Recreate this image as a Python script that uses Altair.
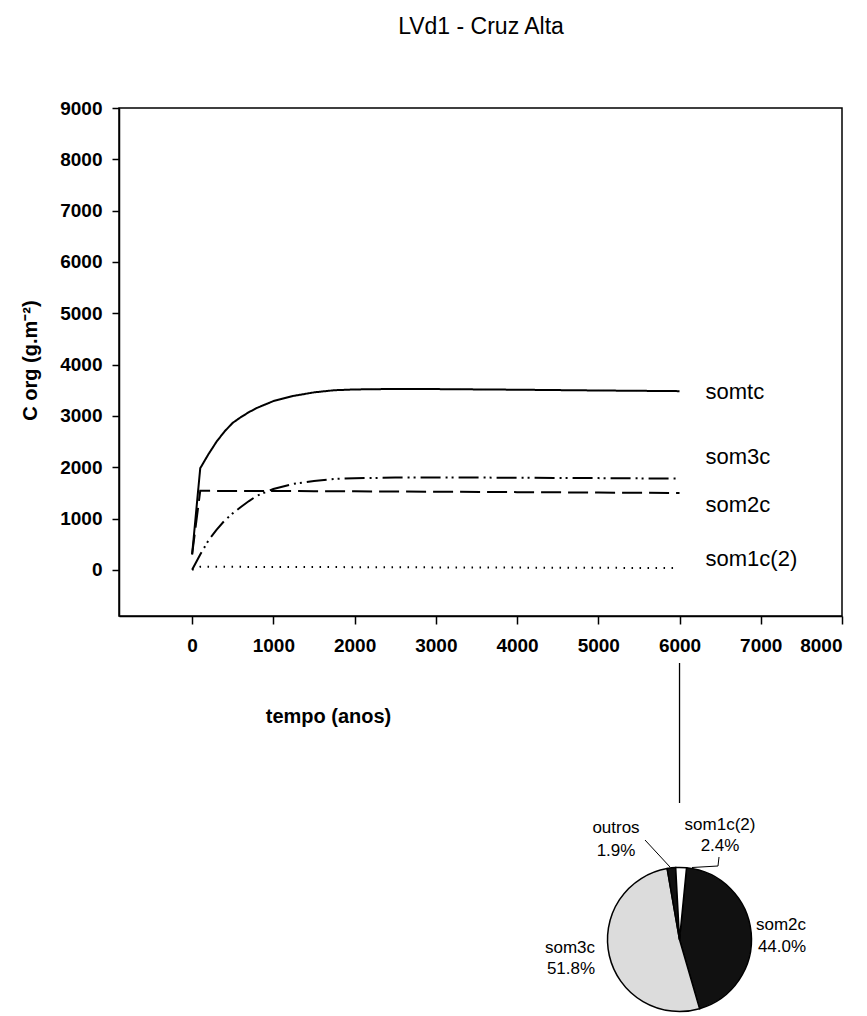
import math
import altair as alt
import pandas as pd

FONT = "Liberation Sans"

# ---------------- data ----------------
years = [0, 100, 200, 300, 400, 500, 600, 700, 800, 1000, 1250, 1500, 1750, 2000, 2500, 3000, 4000, 5000, 6000]
somtc = [300, 1980, 2250, 2495, 2698, 2864, 2975, 3073, 3156, 3288, 3390, 3458, 3500, 3515, 3525, 3522, 3510, 3495, 3482]
som3c = [0, 300, 570, 780, 960, 1100, 1225, 1340, 1445, 1575, 1675, 1730, 1770, 1785, 1797, 1800, 1795, 1787, 1777]
som2c = [300, 1540, 1539, 1538, 1538, 1537, 1537, 1536, 1536, 1535, 1534, 1533, 1531, 1530, 1526, 1522, 1514, 1506, 1498]
som1c = [0, 60, 60, 59, 59, 58, 58, 57, 57, 56, 55, 54, 53, 52, 50, 47, 43, 39, 35]

series_names = ["somtc", "som3c", "som2c", "som1c(2)"]
series_values = [somtc, som3c, som2c, som1c]

x_ticks = [0, 1000, 2000, 3000, 4000, 5000, 6000, 7000, 8000]
y_ticks = [0, 1000, 2000, 3000, 4000, 5000, 6000, 7000, 8000, 9000]

pie_names = ["som2c", "som3c", "outros", "som1c(2)"]
pie_pct = [44.0, 51.8, 1.9, 2.4]

# ---------------- tables ----------------
rows = []
for name, vals in zip(series_names, series_values):
    for t, v in zip(years, vals):
        rows.append({"serie": name, "year": t, "value": v})
df = pd.DataFrame(rows)
ends = df[df["year"] == years[-1]].reset_index(drop=True)

pie_df = pd.DataFrame({
    "name": pie_names,
    "pct": pie_pct,
    "idx": list(range(len(pie_names))),
    "pctlabel": [f"{p:.1f}%" for p in pie_pct],
})

# ---------------- layout ----------------
W, H = 723, 508
LEFT, TOP = 119, 108

dashes = [[1, 0], [20, 5, 2, 4, 2, 5], [20, 7], [1.5, 6.5]]

xscale = alt.Scale(domain=[-900, 8000], nice=False, zero=False)
yscale = alt.Scale(domain=[-900, 9000], nice=False, zero=False)

lines = alt.Chart(df).mark_line(color="black", strokeWidth=2).encode(
    x=alt.X("year:Q", scale=xscale,
            axis=alt.Axis(values=x_ticks, title="tempo (anos)", format="d",
                          tickSize=8, labelPadding=12, titleFontSize=20,
                          titleX=328 - LEFT, titleY=716 - (TOP + H), titleAlign="center",
                          titleBaseline="middle")),
    y=alt.Y("value:Q", scale=yscale,
            axis=alt.Axis(values=y_ticks, title="C org (g.m⁻²)", format="d",
                          tickSize=7, labelPadding=10, titleFontSize=20,
                          titleX=30 - LEFT, titleY=360 - TOP, titleAlign="center",
                          titleBaseline="middle", titleAngle=270)),
    strokeDash=alt.StrokeDash("serie:N",
                              scale=alt.Scale(domain=series_names, range=dashes),
                              legend=None),
    detail="serie:N",
)

label_dy = {"somtc": 1, "som3c": -22, "som2c": 12, "som1c(2)": -9}
end_labels = []
for name in series_names:
    end_labels.append(
        alt.Chart(ends[ends["serie"] == name]).mark_text(
            align="left", baseline="middle", dx=26, dy=label_dy[name],
            font=FONT, fontSize=22, color="black",
        ).encode(x=alt.X("year:Q", scale=xscale), y=alt.Y("value:Q", scale=yscale),
                 text="serie:N")
    )

# title
title = alt.Chart(pd.DataFrame({"t": ["LVd1 - Cruz Alta"]})).mark_text(
    align="center", baseline="middle", font=FONT, fontSize=23, color="black"
).encode(x=alt.value(481 - LEFT), y=alt.value(27 - TOP), text="t:N")

# connector from t = 6000 down to the pie
connector = alt.Chart(pd.DataFrame({"t": [years[-1]]})).mark_rule(
    color="black", strokeWidth=1.3
).encode(x=alt.X("t:Q", scale=xscale), y=alt.value(663 - TOP), y2=alt.value(803 - TOP))

# pie
start = math.radians(5.6)
pie = alt.Chart(pie_df).mark_arc(outerRadius=72, stroke="black", strokeWidth=1.5).encode(
    theta=alt.Theta("pct:Q", stack=True,
                    scale=alt.Scale(range=[start, start + 2 * math.pi])),
    color=alt.Color("name:N",
                    scale=alt.Scale(domain=pie_names,
                                    range=["#111111", "#dcdcdc", "#111111", "#ffffff"]),
                    legend=None),
    order=alt.Order("idx:Q"),
    x=alt.value(679.5 - LEFT),
    y=alt.value(939.5 - TOP),
)

pie_label_pos = {
    "outros": ((616, 828), (616, 851)),
    "som1c(2)": ((720, 825), (720, 846)),
    "som2c": ((781, 925), (782, 947)),
    "som3c": ((570, 948), (571, 969)),
}
pie_texts = []
for name, ((x1, y1), (x2, y2)) in pie_label_pos.items():
    sub = pie_df[pie_df["name"] == name]
    base = alt.Chart(sub).mark_text(
        align="center", baseline="middle", font=FONT, fontSize=17, color="black")
    pie_texts.append(base.encode(x=alt.value(x1 - LEFT), y=alt.value(y1 - TOP), text="name:N"))
    pie_texts.append(base.encode(x=alt.value(x2 - LEFT), y=alt.value(y2 - TOP), text="pctlabel:N"))

one = pd.DataFrame({"a": [0]})
leader_outros = alt.Chart(one).mark_rule(color="black", strokeWidth=1).encode(
    x=alt.value(645 - LEFT), y=alt.value(840 - TOP),
    x2=alt.value(670 - LEFT), y2=alt.value(867 - TOP))
leader_som1a = alt.Chart(one).mark_rule(color="black", strokeWidth=1).encode(
    x=alt.value(719 - LEFT), y=alt.value(857 - TOP),
    x2=alt.value(718 - LEFT), y2=alt.value(866 - TOP))
leader_som1b = alt.Chart(one).mark_rule(color="black", strokeWidth=1).encode(
    x=alt.value(718 - LEFT), y=alt.value(866 - TOP),
    x2=alt.value(692 - LEFT), y2=alt.value(867.5 - TOP))

chart = alt.layer(
    lines, *end_labels, title, connector, pie, *pie_texts,
    leader_outros, leader_som1a, leader_som1b,
).properties(
    width=W, height=H,
    autosize=alt.AutoSizeParams(type="none"),
    padding={"left": LEFT, "top": TOP, "right": 867 - LEFT - W, "bottom": 1016 - TOP - H},
).configure_view(
    stroke="black", strokeWidth=1.5
).configure_axis(
    grid=False, domainColor="black", domainWidth=1.5, tickColor="black", tickWidth=1.5,
    labelColor="black", titleColor="black", labelFont=FONT, titleFont=FONT,
    labelFontWeight="bold", titleFontWeight="bold", labelFontSize=19,
)

chart.save("out.html", embed_options={"renderer": "svg", "actions": False})
